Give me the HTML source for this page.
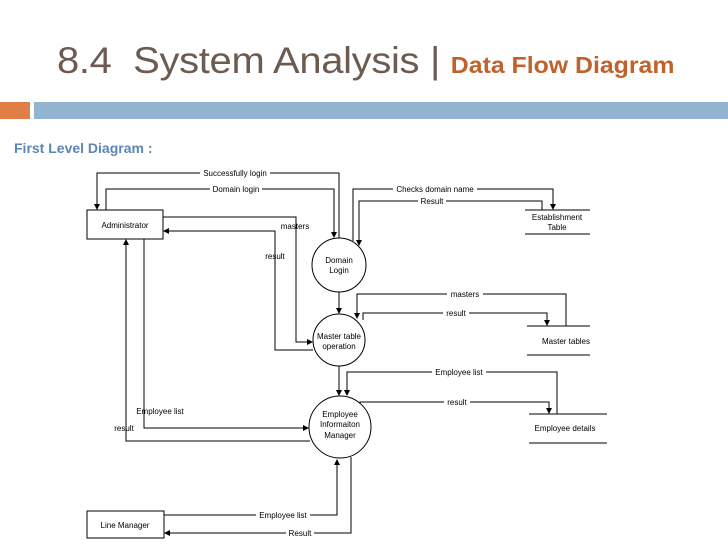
<!DOCTYPE html>
<html><head><meta charset="utf-8"><style>
body{margin:0;background:#fff;width:728px;height:546px;overflow:hidden;position:relative;font-family:"Liberation Sans",sans-serif}
</style></head><body>
<div style="position:absolute;left:57px;top:40px;font-size:37px;color:#6e5b50;white-space:nowrap;letter-spacing:-0.3px;transform:scaleX(1.08);transform-origin:0 0">8.4&nbsp; System Analysis | <span style="font-size:23px;font-weight:bold;color:#c0622b;letter-spacing:0">Data Flow Diagram</span></div>
<div style="position:absolute;left:0;top:102px;width:30px;height:17px;background:#e07f45"></div>
<div style="position:absolute;left:34px;top:102px;width:694px;height:17px;background:#93b4d1"></div>
<div style="position:absolute;left:14px;top:140px;font-size:14px;font-weight:bold;color:#5b86b3">First Level Diagram :</div>
<svg width="728" height="546" style="position:absolute;left:0;top:0" font-family="Liberation Sans, sans-serif" font-size="8" fill="none" stroke="#000" stroke-width="1">
<defs><marker id="a" markerWidth="6" markerHeight="6" refX="5" refY="3" orient="auto" markerUnits="userSpaceOnUse"><path d="M0,0L6,3L0,6z" fill="#000" stroke="none"/></marker></defs>
<rect x="87" y="210" width="76" height="29"/>
<rect x="87" y="511" width="77" height="27"/>
<circle cx="339" cy="265" r="27"/>
<circle cx="339" cy="340" r="26"/>
<circle cx="340" cy="427" r="31"/>
<path d="M525 210H590M525 234H590M527 326H590M527 355H590M529 414H607M529 443H607"/>
<path d="M339 238V173H97V209" marker-end="url(#a)"/>
<path d="M106 210V189H334V237" marker-end="url(#a)"/>
<path d="M353 241V189H553V209" marker-end="url(#a)"/>
<path d="M542 210V201H359V245" marker-end="url(#a)"/>
<path d="M163 217H296V342H312" marker-end="url(#a)"/>
<path d="M313 350H275V231H164" marker-end="url(#a)"/>
<path d="M339 292V313" marker-end="url(#a)"/>
<path d="M566 326V294H357V318" marker-end="url(#a)"/>
<path d="M363 320V313H547V325" marker-end="url(#a)"/>
<path d="M339 366V395" marker-end="url(#a)"/>
<path d="M557 414V372H347V395" marker-end="url(#a)"/>
<path d="M360 403V402H549V413" marker-end="url(#a)"/>
<path d="M144 239V428H308" marker-end="url(#a)"/>
<path d="M310 441H126V240" marker-end="url(#a)"/>
<path d="M164 515H337V460" marker-end="url(#a)"/>
<path d="M351 457V533H165" marker-end="url(#a)"/>
<g fill="#000" stroke="none" text-anchor="middle">
<rect x="200" y="169" width="70" height="8" fill="#fff"/><text x="235" y="176">Successfully login</text>
<rect x="210" y="185" width="52" height="8" fill="#fff"/><text x="236" y="192">Domain login</text>
<rect x="393" y="185" width="84" height="8" fill="#fff"/><text x="435" y="192">Checks domain name</text>
<rect x="418" y="197" width="28" height="8" fill="#fff"/><text x="432" y="204">Result</text>
<text x="557" y="220">Establishment</text><text x="557" y="230">Table</text>
<text x="295" y="229">masters</text>
<text x="275" y="259">result</text>
<text x="339" y="263">Domain</text><text x="339" y="273">Login</text>
<rect x="447" y="290" width="36" height="8" fill="#fff"/><text x="465" y="297">masters</text>
<rect x="443" y="309" width="26" height="8" fill="#fff"/><text x="456" y="316">result</text>
<text x="339" y="339">Master table</text><text x="339" y="349">operation</text>
<text x="566" y="344">Master tables</text>
<rect x="432" y="368" width="54" height="8" fill="#fff"/><text x="459" y="375">Employee list</text>
<rect x="444" y="398" width="26" height="8" fill="#fff"/><text x="457" y="405">result</text>
<text x="340" y="417">Employee</text><text x="340" y="427">Informaiton</text><text x="340" y="438">Manager</text>
<text x="565" y="431">Employee details</text>
<text x="160" y="414">Employee list</text>
<text x="124" y="431">result</text>
<rect x="256" y="511" width="54" height="8" fill="#fff"/><text x="283" y="518">Employee list</text>
<rect x="286" y="529" width="28" height="8" fill="#fff"/><text x="300" y="536">Result</text>
<text x="125" y="228">Administrator</text>
<text x="125" y="528">Line Manager</text>
</g>
</svg>
</body></html>
